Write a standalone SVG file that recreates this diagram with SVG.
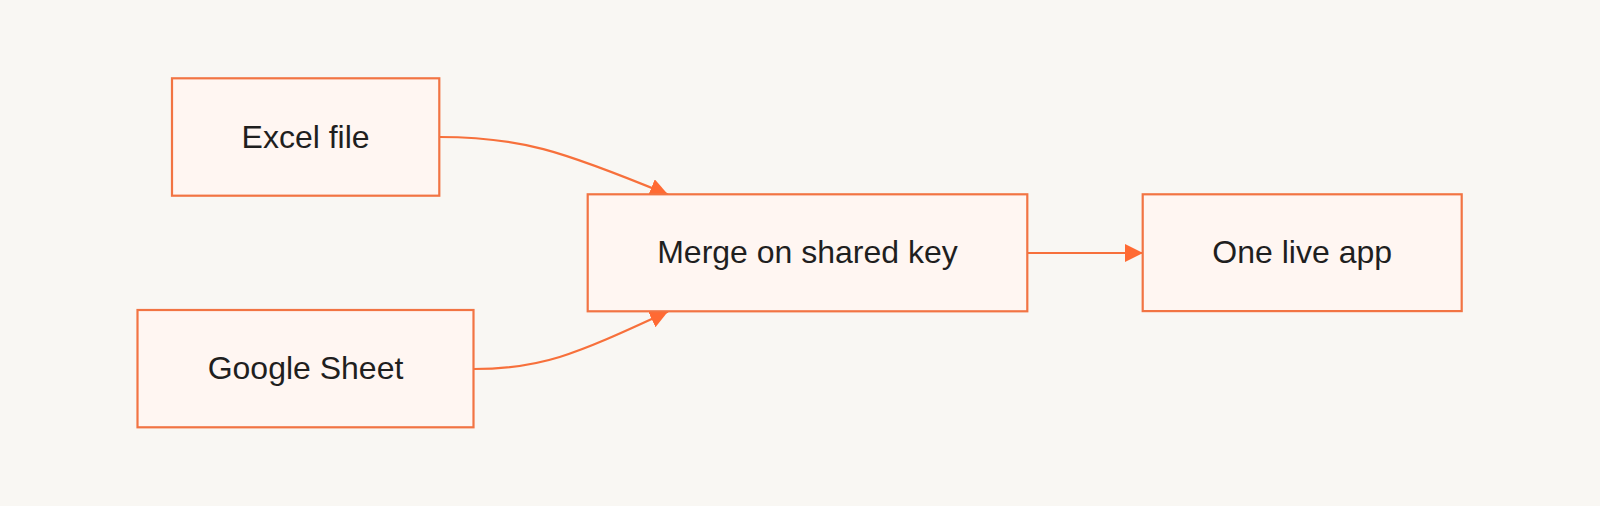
<svg xmlns="http://www.w3.org/2000/svg" width="1600" height="506" viewBox="0 0 1600 506">
<style>
.node rect{fill:#fff6f2;stroke:#f27443;stroke-width:2.2}
.node text{font-family:"Liberation Sans",Arial,sans-serif;font-size:32px;fill:#1f1f1f;text-anchor:middle}
.edge{fill:none;stroke:#f7703b;stroke-width:2.2}
</style>
<defs>
<marker id="arrow" viewBox="0 0 10 10" refX="10" refY="5" markerUnits="userSpaceOnUse" markerWidth="18" markerHeight="18" orient="auto">
<path d="M0,0 L10,5 L0,10 z" fill="#ff6a33"/>
</marker>
</defs>
<rect width="1600" height="506" fill="#f9f7f3"/>
<g id="connectors">
<path class="edge" d="M439,137 C520,137 560,150 668,194.5" marker-end="url(#arrow)"/>
<path class="edge" d="M473.5,369 C540,369 572,356 668,311.5" marker-end="url(#arrow)"/>
<path class="edge" d="M1027.3,253 L1143,253" marker-end="url(#arrow)"/>
</g>
<g id="excel" class="node">
<rect x="172" y="78.3" width="267.3" height="117.4"/>
<text x="305.6" y="147.8">Excel file</text>
</g>
<g id="google" class="node">
<rect x="137.5" y="310" width="336" height="117.3"/>
<text x="305.5" y="379.3">Google Sheet</text>
</g>
<g id="merge" class="node">
<rect x="587.7" y="194.3" width="439.6" height="117"/>
<text x="807.5" y="263">Merge on shared key</text>
</g>
<g id="app" class="node">
<rect x="1142.7" y="194.3" width="319" height="116.8"/>
<text x="1302.2" y="262.8">One live app</text>
</g>
</svg>
